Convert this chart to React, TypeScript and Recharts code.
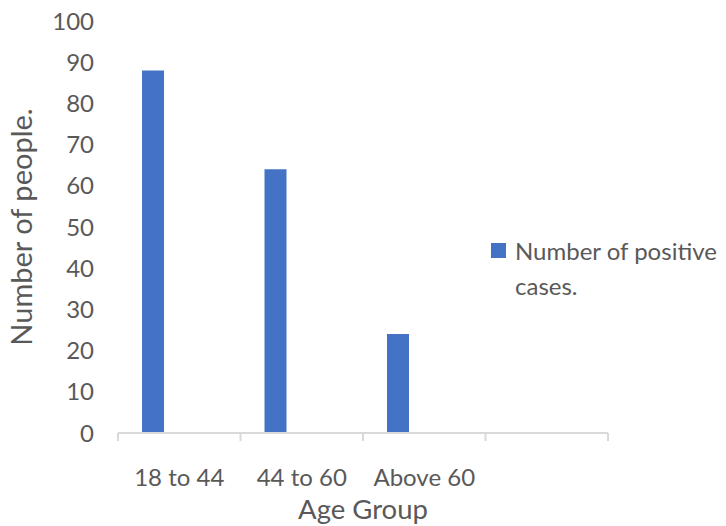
import { BarChart, Bar, XAxis, YAxis, Legend, Label } from 'recharts'

const categories = ['18 to 44', '44 to 60', 'Above 60', '']
const positiveCases = [88, 64, 24, null]
// Excel's sheet had an empty second series; it only takes its slot in each group
const emptySeries = [null, null, null, null]
const yTicks = [0, 10, 20, 30, 40, 50, 60, 70, 80, 90, 100]

const BLUE = '#4472C4'
const TEXT = '#595959'
const AXIS = '#D9D9D9'
const FONT = 'Lato, "Liberation Sans", sans-serif'
const TICK_SIZE = 8
const TICK_MARGIN = 28

const data = categories.map((age, i) => ({
  age,
  cases: positiveCases[i],
  empty: emptySeries[i],
}))

function AgeTick(props: any) {
  const { x, y, payload, index } = props
  const half = payload.offset > 0 ? payload.offset : props.width / categories.length / 2
  const top = y - TICK_MARGIN - TICK_SIZE
  const bottom = y - TICK_MARGIN
  return (
    <g>
      <line x1={x - half} x2={x - half} y1={top} y2={bottom} stroke={AXIS} strokeWidth={2} />
      {index === categories.length - 1 && (
        <line x1={x + half} x2={x + half} y1={top} y2={bottom} stroke={AXIS} strokeWidth={2} />
      )}
      <text x={x} y={y} dy="0.71em" textAnchor="middle" fill={TEXT} fontSize={24} fontFamily={FONT}>
        {payload.value}
      </text>
    </g>
  )
}

function CasesLegend(props: any) {
  const item = (props.payload || [])[0]
  if (!item) return null
  return (
    <div style={{ display: 'flex', alignItems: 'flex-start', fontFamily: FONT, fontSize: 24, color: TEXT, lineHeight: '35px' }}>
      <div style={{ width: 15, height: 15, background: item.color, marginTop: 10, marginRight: 9, flex: 'none' }} />
      <div style={{ width: 210 }}>{item.value}</div>
    </div>
  )
}

export default function App() {
  return (
    <div style={{ position: 'absolute', left: 0, top: 0, background: '#fff' }}>
      <BarChart width={726} height={526} data={data}
        margin={{ top: 21, right: 118, bottom: 0, left: 0 }}
        barSize={22} barGap={30}>
        <XAxis dataKey="age" height={93} interval={0}
          axisLine={{ stroke: AXIS, strokeWidth: 2 }} tickLine={false}
          tickSize={TICK_SIZE} tickMargin={TICK_MARGIN} tick={<AgeTick />}>
          <Label value="Age Group" position="insideBottom" offset={7}
            style={{ fill: TEXT, fontSize: 27.5, fontFamily: FONT }} />
        </XAxis>
        <YAxis width={118} domain={[0, 100]} ticks={yTicks} interval={0}
          axisLine={false} tickLine={false} tickMargin={18}
          tick={{ fill: TEXT, fontSize: 24, fontFamily: FONT }}>
          <Label value="Number of people." angle={-90} position="insideLeft" offset={26} dx={-4}
            style={{ fill: TEXT, fontSize: 29, fontFamily: FONT, textAnchor: 'middle' }} />
        </YAxis>
        <Legend layout="vertical" align="center" verticalAlign="middle"
          content={<CasesLegend />}
          wrapperStyle={{ left: 491, top: 233, width: 235 }} />
        <Bar dataKey="cases" name="Number of positive cases." fill={BLUE} isAnimationActive={false} />
        <Bar dataKey="empty" name="empty" fill={BLUE} legendType="none" isAnimationActive={false} />
      </BarChart>
    </div>
  )
}
